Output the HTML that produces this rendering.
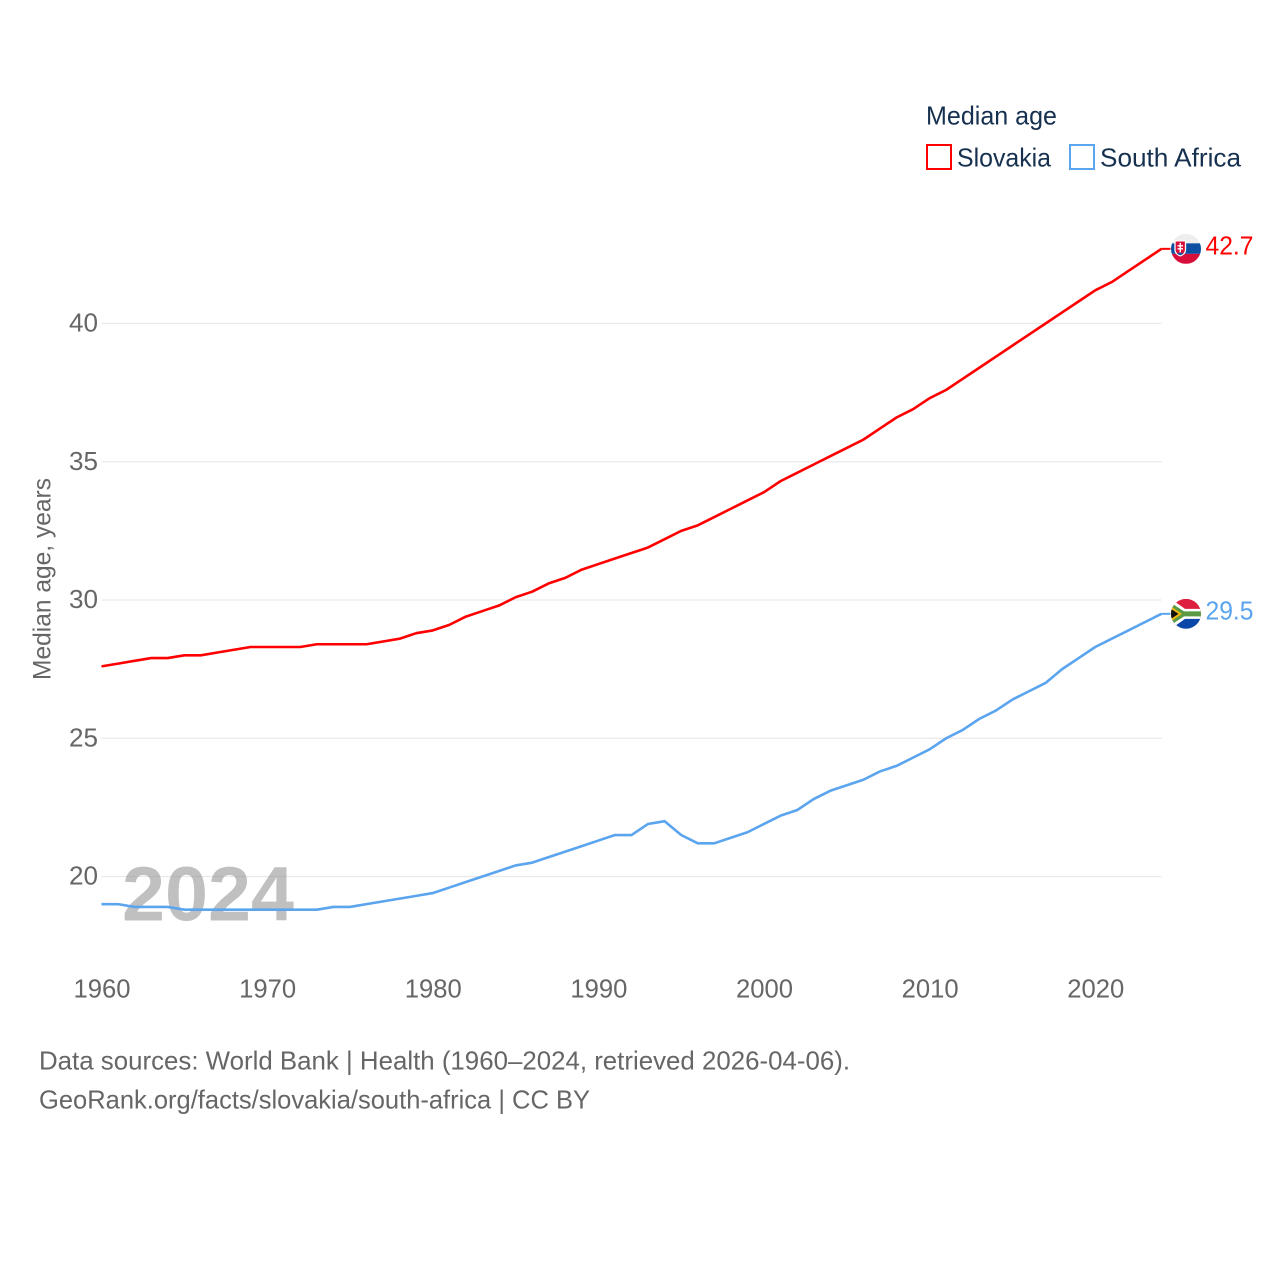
<!DOCTYPE html>
<html lang="en">
<head>
<meta charset="utf-8">
<title>Median age: Slovakia and South Africa</title>
<style>
html,body{margin:0;padding:0;background:#fff;width:1280px;height:1280px;overflow:hidden}
svg{display:block}
text{font-family:"Liberation Sans",sans-serif}
</style>
</head>
<body>
<svg id="chart" xmlns="http://www.w3.org/2000/svg" width="1280" height="1280" viewBox="0 0 1280 1280">
  <defs>
    <clipPath id="flag-clip"><circle cx="0" cy="0" r="15"></circle></clipPath>
  </defs>
  <g id="grid"></g>
  <g id="xticks"></g>
  <g id="yticks"></g>
  <text x="122" y="920.5" font-size="77" font-weight="bold" fill="#8c8c8c" fill-opacity="0.55" textLength="172" lengthAdjust="spacingAndGlyphs">2024</text>
  <g id="series"></g>
  <g id="flag-sk">
    <g clip-path="url(#flag-clip)">
      <rect x="-15" y="-15" width="30" height="9.5" fill="#eeeeee"></rect>
      <rect x="-15" y="-5.5" width="30" height="10.5" fill="#0b4ea2"></rect>
      <rect x="-15" y="5" width="30" height="10" fill="#d80f3a"></rect>
      <path d="M-11-8h10.500v9q0 4-5.250 6q-5.250-2-5.250-6z" fill="#d80f3a" stroke="#fff" stroke-width="1.300"></path>
      <path d="M-5.750-6v9.500M-8.500-3h5.500M-8.500 0h5.500" stroke="#fff" stroke-width="1.400" fill="none"></path>
      <path d="M-9 5q3.250-2.500 6.500 0l-3.250 1.500z" fill="#0b4ea2"></path>
    </g>
  </g>
  <g id="flag-za">
    <g clip-path="url(#flag-clip)">
      <rect x="-15" y="-15" width="30" height="15" fill="#de1f3f"></rect>
      <rect x="-15" y="0" width="30" height="15" fill="#0b47a8"></rect>
      <path d="M-15-15L-1-5H15V5H-1L-15 15z" fill="#fff"></path>
      <path d="M-15-11L-2-2.500H15V2.500H-2L-15 11z" fill="#5a9a45"></path>
      <path d="M-15-7.500L-4 0L-15 7.500z" fill="#f2b90f"></path>
      <path d="M-15-5L-7.500 0L-15 5z" fill="#111"></path>
    </g>
  </g>
  <g id="values"></g>
  <text x="926" y="124.500" font-size="26" fill="#16304f" textLength="131" lengthAdjust="spacingAndGlyphs">Median age</text>
  <rect x="927" y="145" width="24" height="24" fill="#fff" stroke="#ff0000" stroke-width="2"></rect>
  <text x="957" y="166.500" font-size="26" fill="#16304f" textLength="94" lengthAdjust="spacingAndGlyphs">Slovakia</text>
  <rect x="1070" y="145" width="24" height="24" fill="#fff" stroke="#5ba4ee" stroke-width="2"></rect>
  <text x="1100" y="166.500" font-size="26" fill="#16304f" textLength="141" lengthAdjust="spacingAndGlyphs">South Africa</text>
  <text transform="translate(50.500,680) rotate(-90)" x="0" y="0" font-size="25" fill="#666666" textLength="202" lengthAdjust="spacingAndGlyphs">Median age, years</text>
  <text x="39" y="1069.500" font-size="26" fill="#666666" textLength="811" lengthAdjust="spacingAndGlyphs">Data sources: World Bank | Health (1960–2024, retrieved 2026-04-06).</text>
  <text x="39" y="1108.500" font-size="26" fill="#666666" textLength="551" lengthAdjust="spacingAndGlyphs">GeoRank.org/facts/slovakia/south-africa | CC BY</text>
</svg>
<script>
const years = [1960,1961,1962,1963,1964,1965,1966,1967,1968,1969,1970,1971,1972,1973,1974,1975,1976,1977,1978,1979,1980,1981,1982,1983,1984,1985,1986,1987,1988,1989,1990,1991,1992,1993,1994,1995,1996,1997,1998,1999,2000,2001,2002,2003,2004,2005,2006,2007,2008,2009,2010,2011,2012,2013,2014,2015,2016,2017,2018,2019,2020,2021,2022,2023,2024];
const slovakia = [27.6,27.7,27.8,27.9,27.9,28.0,28.0,28.1,28.2,28.3,28.3,28.3,28.3,28.4,28.4,28.4,28.4,28.5,28.6,28.8,28.9,29.1,29.4,29.6,29.8,30.1,30.3,30.6,30.8,31.1,31.3,31.5,31.7,31.9,32.2,32.5,32.7,33.0,33.3,33.6,33.9,34.3,34.6,34.9,35.2,35.5,35.8,36.2,36.6,36.9,37.3,37.6,38.0,38.4,38.8,39.2,39.6,40.0,40.4,40.8,41.2,41.5,41.9,42.3,42.7];
const southAfrica = [19.0,19.0,18.9,18.9,18.9,18.8,18.8,18.8,18.8,18.8,18.8,18.8,18.8,18.8,18.9,18.9,19.0,19.1,19.2,19.3,19.4,19.6,19.8,20.0,20.2,20.4,20.5,20.7,20.9,21.1,21.3,21.5,21.5,21.9,22.0,21.5,21.2,21.2,21.4,21.6,21.9,22.2,22.4,22.8,23.1,23.3,23.5,23.8,24.0,24.3,24.6,25.0,25.3,25.7,26.0,26.4,26.7,27.0,27.5,27.9,28.3,28.6,28.9,29.2,29.5];
const xTickLabels = [1960,1970,1980,1990,2000,2010,2020];
const yTickLabels = [20,25,30,35,40];

const NS = 'http://www.w3.org/2000/svg';
function xScale(year){ return 101.5 + (year - 1960) * (1161.5 - 101.5) / 64; }
function yScale(v){ return 876.5 - (v - 20) * (876.5 - 323.5) / 20; }
function make(tag, attrs, parent, text){
  const el = document.createElementNS(NS, tag);
  for (const k in attrs) el.setAttribute(k, attrs[k]);
  if (text !== undefined) el.textContent = text;
  parent.appendChild(el);
  return el;
}

const grid = document.getElementById('grid');
const yticks = document.getElementById('yticks');
yTickLabels.forEach(function(t){
  const line = make('line', {x1:101.5, x2:1161.5, y1:yScale(t), y2:yScale(t), stroke:'#e9e9e9', 'stroke-width':1.3}, grid);
  
  
  const label = make('text', {x:69, y:yScale(t)+8, 'font-size':25.5, fill:'#666666', textLength:29, lengthAdjust:'spacingAndGlyphs'}, yticks, String(t));
  
  
});

const xticks = document.getElementById('xticks');
xTickLabels.forEach(function(t){
  const label = make('text', {x:xScale(t)-28, y:997.5, 'font-size':25.5, fill:'#666666', textLength:57, lengthAdjust:'spacingAndGlyphs'}, xticks, String(t));
  
  
});

const seriesGroup = document.getElementById('series');
const values = document.getElementById('values');
function drawSeries(data, color, name, flagId){
  const pts = data.map(function(v, i){ return xScale(years[i]).toFixed(2) + ',' + yScale(v).toFixed(2); });
  const line = make('polyline', {points:pts.join(' '), fill:'none', stroke:color, 'stroke-width':2.6, 'stroke-linejoin':'round'}, seriesGroup);
  
  
  const last = data[data.length - 1];
  const ly = yScale(last);
  const lx = xScale(years[years.length - 1]);
  const conn = make('line', {x1:lx, x2:lx+9, y1:ly, y2:ly, stroke:color, 'stroke-width':2}, seriesGroup);
  
  
  document.getElementById(flagId).setAttribute('transform', 'translate(' + (lx+24.5) + ',' + ly + ')');
  const label = make('text', {x:lx+44, y:ly+5.5, 'font-size':26, fill:color, textLength:48, lengthAdjust:'spacingAndGlyphs'}, values, last.toFixed(1));
  
  
}
drawSeries(slovakia, '#ff0000', 'slovakia', 'flag-sk');
drawSeries(southAfrica, '#5ba4ee', 'south-africa', 'flag-za');
</script>
</body>
</html>
